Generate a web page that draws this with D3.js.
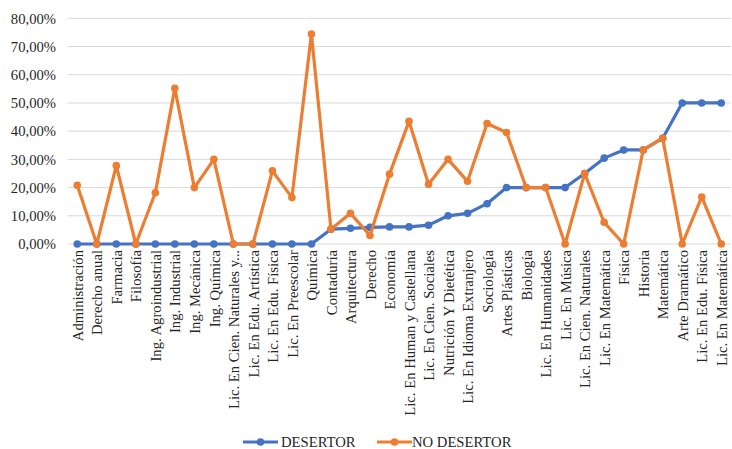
<!DOCTYPE html>
<html><head><meta charset="utf-8">
<script src="https://cdn.jsdelivr.net/npm/d3@7"></script>
<style>body{margin:0;background:#fff;} text{font-family:"Liberation Serif","Times New Roman",serif;}</style>
</head><body>
<svg id="chart" width="732" height="449"></svg>
<script>
const categories = ["Administración","Derecho anual","Farmacia","Filosofía","Ing.  Agroindustrial","Ing.  Industrial","Ing.  Mecánica","Ing.  Química","Lic. En Cien. Naturales y...","Lic. En Edu. Artística","Lic. En Edu. Física","Lic. En Preescolar","Química","Contaduría","Arquitectura","Derecho","Economía","Lic. En Human y Castellana","Lic. En Cien. Sociales","Nutrición Y Dietética","Lic. En Idioma Extranjero","Sociología","Artes  Plásticas","Biología","Lic. En Humanidades","Lic. En Música","Lic. En Cien. Naturales","Lic. En Matemática","Física","Historia","Matemática","Arte Dramático","Lic. En Edu. Física","Lic. En Matemática"];
const desertor = [0,0,0,0,0,0,0,0,0,0,0,0,0,0.0526,0.0556,0.0588,0.0606,0.0606,0.0667,0.10,0.1087,0.1429,0.20,0.20,0.20,0.20,0.25,0.3043,0.3333,0.3333,0.375,0.50,0.50,0.50];
const noDesertor = [0.2083,0,0.2778,0,0.1818,0.5517,0.20,0.30,0,0,0.2593,0.1644,0.7442,0.0526,0.1087,0.0303,0.2475,0.4348,0.2121,0.30,0.2222,0.4271,0.3953,0.20,0.20,0,0.25,0.0769,0,0.3333,0.375,0,0.1667,0];
const yTicks = [0,0.1,0.2,0.3,0.4,0.5,0.6,0.7,0.8];
const seriesNames = ["DESERTOR","NO DESERTOR"];
const colors = ["#4472C4","#ED7D31"];

(function(){
const FONT = '"Liberation Serif","Times New Roman",serif';
const FS = 14.67;
const svg = d3.select("#chart");
const mLeft = 67.5, mRight = 731, mTop = 18.3, mBottom = 244;
const x = d3.scalePoint().domain(d3.range(categories.length)).range([mLeft, mRight]).padding(0.5);
const y = d3.scaleLinear().domain([0,0.8]).range([mBottom, mTop]);
const fmt = v => d3.format(".2f")(v*100).replace(".", ",") + "%";

svg.append("g").selectAll("line").data(yTicks).join("line")
  .attr("x1", mLeft).attr("x2", mRight)
  .attr("y1", d => y(d)).attr("y2", d => y(d))
  .attr("stroke", "#d9d9d9").attr("stroke-width", 1);

const yAxis = d3.axisLeft(y).tickValues(yTicks).tickFormat(fmt).tickSize(0).tickPadding(0);
const ya = svg.append("g").attr("transform", `translate(56,0)`).call(yAxis);
ya.select(".domain").remove();
ya.attr("font-family", null).attr("font-size", null);
ya.selectAll("text").attr("font-size", FS).attr("fill", "#262626").style("font-family", FONT);

const xAxis = d3.axisBottom(x).tickFormat(i => categories[i]).tickSize(0).tickPadding(0);
const xa = svg.append("g").attr("transform", `translate(0,${mBottom})`).call(xAxis);
xa.select(".domain").remove();
xa.attr("font-family", null).attr("font-size", null);
xa.selectAll("text")
  .attr("font-size", FS).attr("fill", "#262626").style("font-family", FONT)
  .attr("transform", "rotate(-90)")
  .attr("text-anchor", "end")
  .attr("x", -6).attr("y", 0).attr("dy", "0.35em");

const line = d3.line().x((d,i) => x(i)).y(d => y(d));
[desertor, noDesertor].forEach((data, k) => {
  const g = svg.append("g");
  g.append("path").datum(data).attr("d", line)
    .attr("fill", "none").attr("stroke", colors[k]).attr("stroke-width", 3.2).attr("stroke-linejoin", "round");
  g.selectAll("circle").data(data).join("circle")
    .attr("cx", (d,i) => x(i)).attr("cy", d => y(d)).attr("r", 3.8).attr("fill", colors[k]);
});

const legendItems = [{x0:243, tx:281}, {x0:377, tx:412}];
const ly = 442;
legendItems.forEach((p, k) => {
  const g = svg.append("g");
  g.append("line").attr("x1", p.x0).attr("x2", p.x0+35).attr("y1", ly).attr("y2", ly)
    .attr("stroke", colors[k]).attr("stroke-width", 3.2);
  g.append("circle").attr("cx", p.x0+17.5).attr("cy", ly).attr("r", 3.8).attr("fill", colors[k]);
  g.append("text").attr("x", p.tx).attr("y", ly).attr("dy", "0.35em")
    .attr("font-size", FS).attr("fill", "#262626").style("font-family", FONT).text(seriesNames[k]);
});
})();
</script>
</body></html>
